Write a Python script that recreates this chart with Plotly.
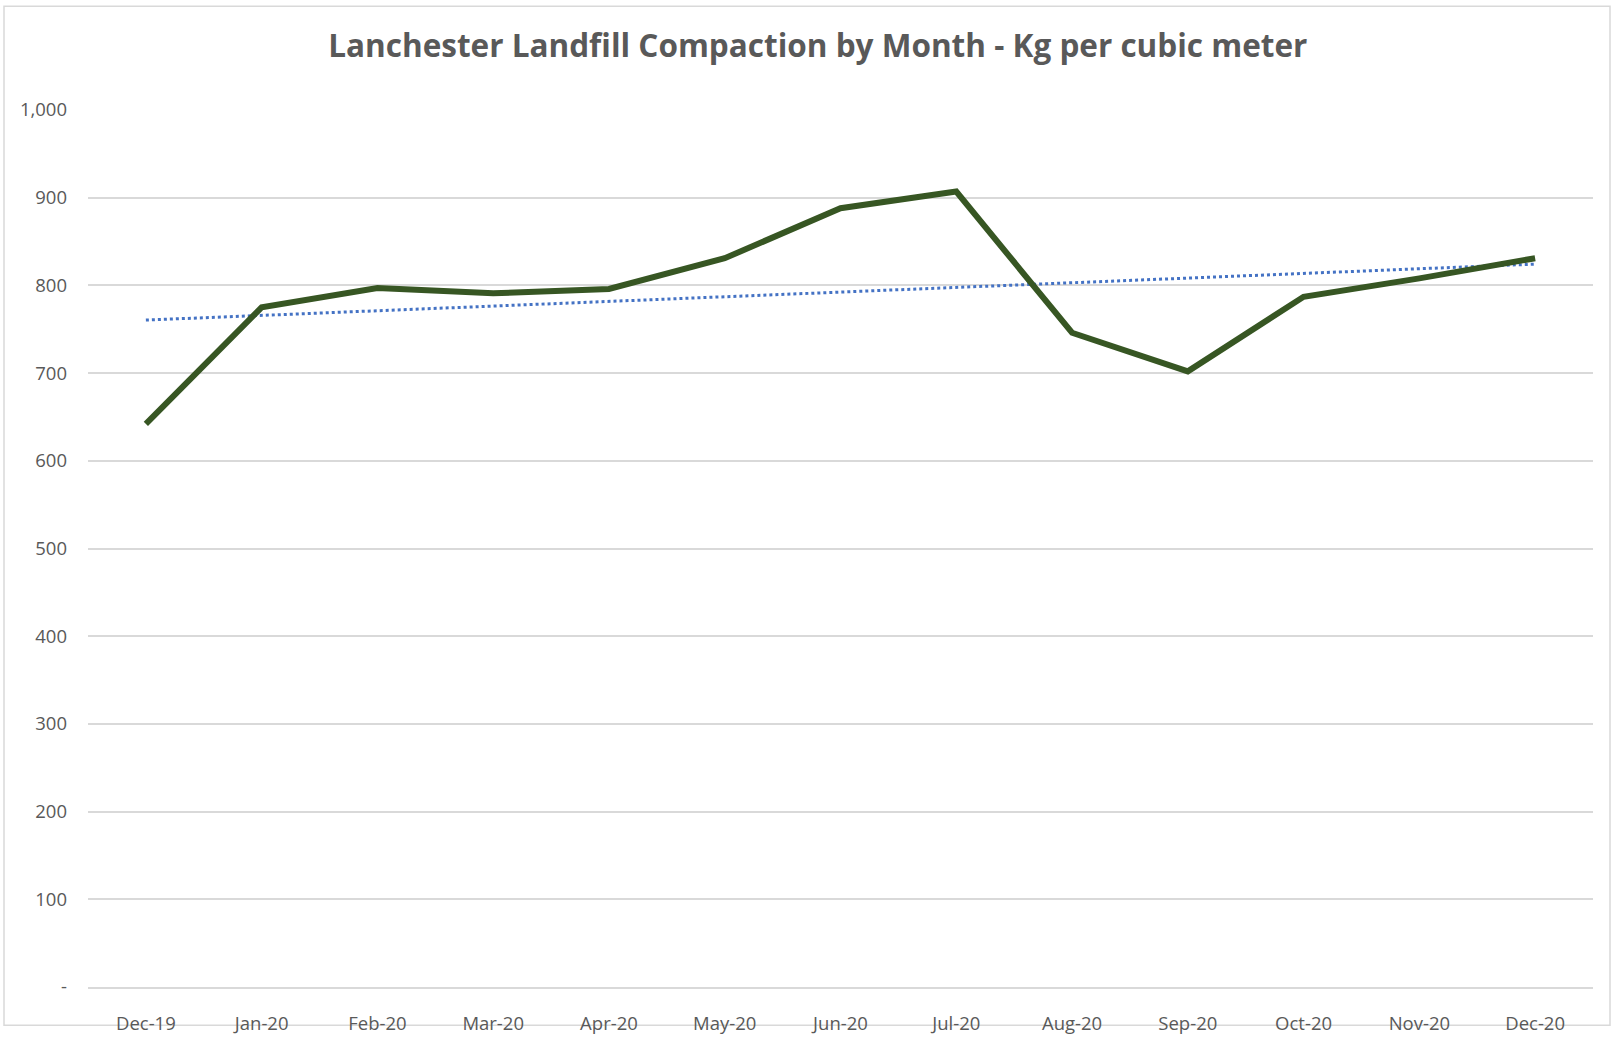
import numpy as np
import plotly.graph_objects as go

months = ["Dec-19", "Jan-20", "Feb-20", "Mar-20", "Apr-20", "May-20", "Jun-20",
          "Jul-20", "Aug-20", "Sep-20", "Oct-20", "Nov-20", "Dec-20"]
compaction = [642, 775, 797, 791, 796, 831, 888, 907, 746, 702, 787, 808, 831]
y_ticks = [0, 100, 200, 300, 400, 500, 600, 700, 800, 900, 1000]
y_tick_text = ["-", "100", "200", "300", "400", "500", "600", "700", "800", "900", "1,000"]

W, H = 1613, 1047
L, R, T, B = 88, 20, 110, 42

idx = np.arange(len(months))
slope, intercept = np.polyfit(idx, compaction, 1)
trend = slope * idx + intercept

fig = go.Figure()
fig.add_trace(go.Scatter(x=months, y=trend, mode="lines",
                         line=dict(color="#4472C4", width=3, dash="dot"),
                         showlegend=False, hoverinfo="skip"))
fig.add_trace(go.Scatter(x=months, y=compaction, mode="lines",
                         line=dict(color="#375623", width=6),
                         showlegend=False))

pw, ph = W - L - R, H - T - B
fig.add_shape(type="rect", xref="paper", yref="paper",
              x0=(4 - L) / pw, x1=(W - 3 - L) / pw,
              y0=1 - (H - 3 - T) / ph, y1=1 - (4 - T) / ph,
              line=dict(color="#d9d9d9", width=1.5), layer="below")

fig.update_layout(
    width=W, height=H, autosize=False,
    margin=dict(l=L, r=R, t=T, b=B),
    paper_bgcolor="white", plot_bgcolor="white",
    title=dict(text="<b>Lanchester Landfill Compaction by Month - Kg per cubic meter</b>",
               x=0.507, xanchor="center", y=1 - 46 / H, yanchor="middle",
               font=dict(family="Open Sans", size=31.5, color="#595959")),
    font=dict(family="Open Sans", color="#595959"),
)
fig.update_xaxes(type="category", range=[-0.5, len(months) - 0.5],
                 showgrid=False, showline=True, linecolor="#d9d9d9", linewidth=1.5,
                 ticks="", tickfont=dict(size=18.5, color="#595959"),
                 ticklabelstandoff=19, zeroline=False)
fig.update_yaxes(range=[0, 1000], tickvals=y_ticks, ticktext=y_tick_text,
                 showgrid=True, gridcolor="#d9d9d9", gridwidth=1.5,
                 zeroline=False, showline=False, ticks="",
                 tickfont=dict(size=18.5, color="#595959"), ticklabelstandoff=20)

fig.write_html(
    "out.html",
    config={"displayModeBar": False, "responsive": False},
    post_script=("document.body.style.margin='0';"
                 "document.body.style.overflow='hidden';"
                 "document.documentElement.style.overflow='hidden';"),
)
